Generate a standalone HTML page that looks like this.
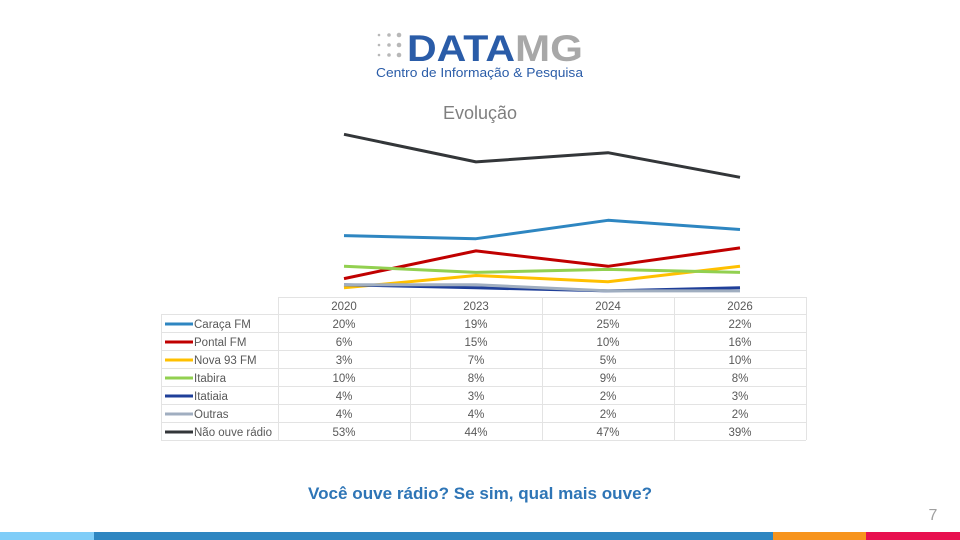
<!DOCTYPE html>
<html><head><meta charset="utf-8"><style>
body{margin:0;background:#fff;}
svg{display:block;font-family:"Liberation Sans",sans-serif;}
</style></head><body>
<svg width="960" height="540" viewBox="0 0 960 540">
<g fill="#b8b8b8">
<circle cx="379" cy="35" r="1.3"/><circle cx="389" cy="35" r="1.8"/><circle cx="399" cy="35" r="2.3"/>
<circle cx="379" cy="45" r="1.3"/><circle cx="389" cy="45" r="1.8"/><circle cx="399" cy="45" r="2.3"/>
<circle cx="379" cy="55" r="1.3"/><circle cx="389" cy="55" r="1.8"/><circle cx="399" cy="55" r="2.3"/>
</g>
<text x="407" y="61" font-size="37" font-weight="bold" fill="#2a5ca8" textLength="108" lengthAdjust="spacingAndGlyphs">DATA</text>
<text x="515" y="61" font-size="37" font-weight="bold" fill="#a8a8a8" textLength="68" lengthAdjust="spacingAndGlyphs">MG</text>
<text x="376" y="77" font-size="13" fill="#2a5ca8" textLength="207" lengthAdjust="spacingAndGlyphs">Centro de Informação &amp; Pesquisa</text>
<text x="480" y="119" font-size="18" fill="#7f7f7f" text-anchor="middle">Evolução</text>
<g fill="none" stroke-width="3" stroke-linejoin="round">
<polyline stroke="#2e86c1" points="344,235.6 476,238.7 608,220.3 740,229.5"/>
<polyline stroke="#c00000" points="344,278.6 476,250.9 608,266.3 740,247.9"/>
<polyline stroke="#ffc000" points="344,287.8 476,275.5 608,281.7 740,266.3"/>
<polyline stroke="#92d050" points="344,266.3 476,272.4 608,269.4 740,272.4"/>
<polyline stroke="#1f3f99" points="344,284.7 476,287.8 608,290.9 740,287.8"/>
<polyline stroke="#a0aec0" points="344,284.7 476,284.7 608,290.9 740,290.9"/>
<polyline stroke="#333639" points="344,134.3 476,161.9 608,152.7 740,177.3"/>
</g>
<g stroke="#e3e3e3" stroke-width="1" fill="none">
<path d="M278.5,297V440 M410.5,297V440 M542.5,297V440 M674.5,297V440 M806.5,297V440"/>
<path d="M278,297.5H806 M161,314.5H806 M161,332.5H806 M161,350.5H806 M161,368.5H806 M161,386.5H806 M161,404.5H806 M161,422.5H806 M161,440.5H806 M161.5,314V440"/>
</g>
<g font-size="11.5" fill="#595959" text-anchor="middle">
<text x="344" y="310">2020</text><text x="476" y="310">2023</text><text x="608" y="310">2024</text><text x="740" y="310">2026</text>
<text x="344" y="328">20%</text><text x="476" y="328">19%</text><text x="608" y="328">25%</text><text x="740" y="328">22%</text>
<text x="344" y="346">6%</text><text x="476" y="346">15%</text><text x="608" y="346">10%</text><text x="740" y="346">16%</text>
<text x="344" y="364">3%</text><text x="476" y="364">7%</text><text x="608" y="364">5%</text><text x="740" y="364">10%</text>
<text x="344" y="382">10%</text><text x="476" y="382">8%</text><text x="608" y="382">9%</text><text x="740" y="382">8%</text>
<text x="344" y="400">4%</text><text x="476" y="400">3%</text><text x="608" y="400">2%</text><text x="740" y="400">3%</text>
<text x="344" y="418">4%</text><text x="476" y="418">4%</text><text x="608" y="418">2%</text><text x="740" y="418">2%</text>
<text x="344" y="436">53%</text><text x="476" y="436">44%</text><text x="608" y="436">47%</text><text x="740" y="436">39%</text>
</g>
<g stroke-width="3">
<line x1="165" x2="193" y1="324" y2="324" stroke="#2e86c1"/>
<line x1="165" x2="193" y1="342" y2="342" stroke="#c00000"/>
<line x1="165" x2="193" y1="360" y2="360" stroke="#ffc000"/>
<line x1="165" x2="193" y1="378" y2="378" stroke="#92d050"/>
<line x1="165" x2="193" y1="396" y2="396" stroke="#1f3f99"/>
<line x1="165" x2="193" y1="414" y2="414" stroke="#a0aec0"/>
<line x1="165" x2="193" y1="432" y2="432" stroke="#333639"/>
</g>
<g font-size="11.5" fill="#595959">
<text x="194" y="328">Caraça FM</text><text x="194" y="346">Pontal FM</text><text x="194" y="364">Nova 93 FM</text>
<text x="194" y="382">Itabira</text><text x="194" y="400">Itatiaia</text><text x="194" y="418">Outras</text><text x="194" y="436">Não ouve rádio</text>
</g>
<text x="480" y="499" font-size="17" font-weight="bold" fill="#2e75b6" text-anchor="middle" textLength="344" lengthAdjust="spacingAndGlyphs">Você ouve rádio? Se sim, qual mais ouve?</text>
<text x="933" y="520" font-size="16" fill="#a0a0a0" text-anchor="middle">7</text>
<rect x="0" y="532" width="94" height="8" fill="#7fcdf8"/>
<rect x="94" y="532" width="679" height="8" fill="#2e86c1"/>
<rect x="773" y="532" width="93" height="8" fill="#f7941d"/>
<rect x="866" y="532" width="94" height="8" fill="#e8104f"/>
</svg>
</body></html>
